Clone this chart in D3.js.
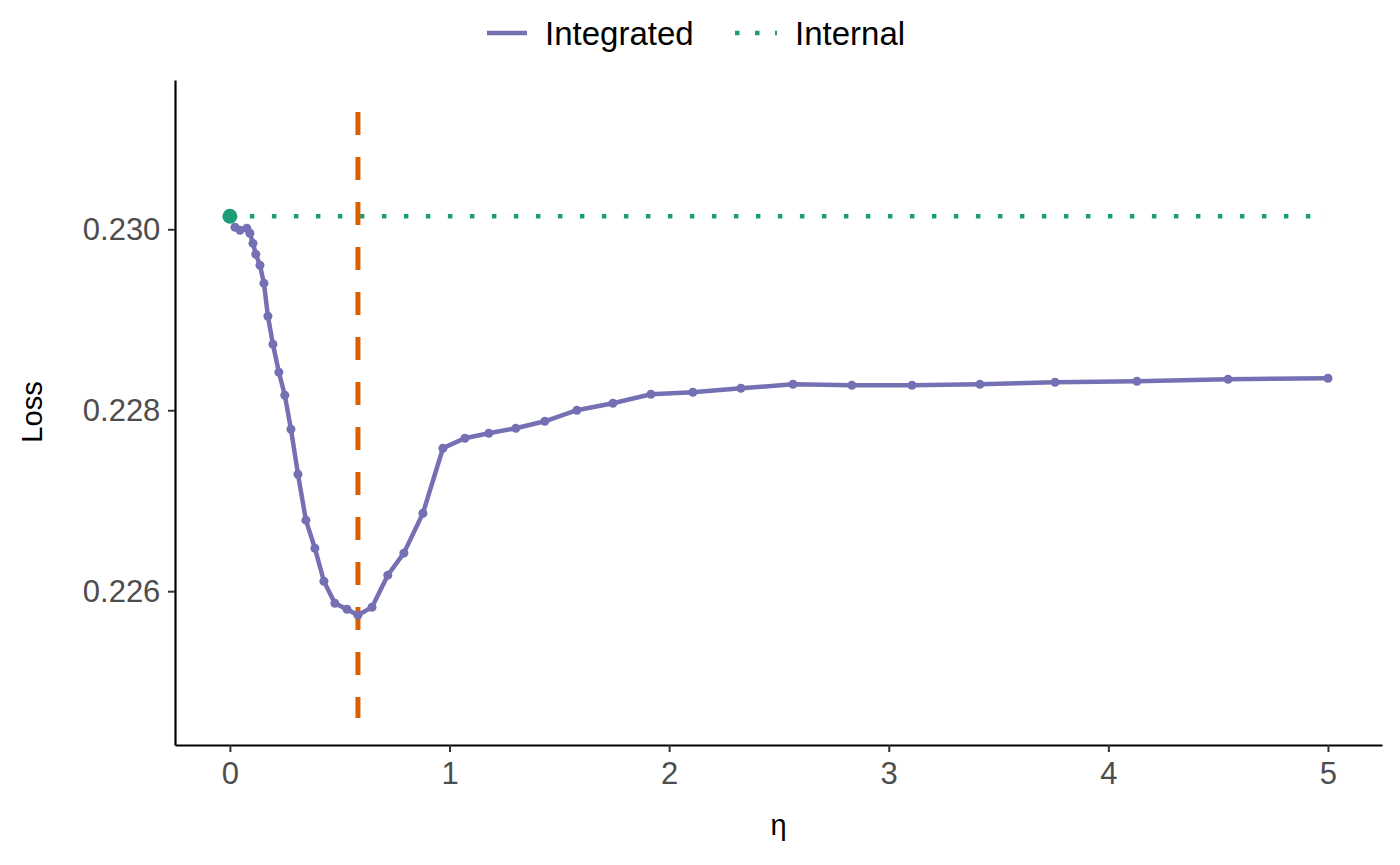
<!DOCTYPE html><html><head><meta charset="utf-8"><script src="https://cdn.jsdelivr.net/npm/d3@7"></script>
<style>body{margin:0;background:#fff}svg{font-family:"Liberation Sans",Arial,sans-serif}</style></head><body><svg id="c" width="1400" height="865"></svg>
<script>
const eta=[0.023,0.046,0.077,0.091,0.105,0.118,0.137,0.155,0.173,0.196,0.223,0.250,0.278,0.310,0.346,0.387,0.428,0.478,0.533,0.583,0.647,0.719,0.792,0.879,0.970,1.070,1.179,1.302,1.434,1.580,1.744,1.917,2.108,2.327,2.564,2.832,3.106,3.415,3.757,4.130,4.545,5.000];
const loss=[0.230022,0.229989,0.230011,0.229956,0.229845,0.229724,0.229602,0.229403,0.229039,0.228729,0.228420,0.228166,0.227790,0.227293,0.226785,0.226475,0.226110,0.225867,0.225801,0.225735,0.225823,0.226177,0.226420,0.226862,0.227580,0.227691,0.227746,0.227801,0.227878,0.228000,0.228077,0.228177,0.228199,0.228243,0.228287,0.228276,0.228276,0.228287,0.228309,0.228320,0.228343,0.228354];
const internalLoss=0.230144, bestEta=0.583;
const xTicks=[0,1,2,3,4,5], yTicks=[0.226,0.228,0.230];
const seriesNames=["Integrated","Internal"];
const L=175,R=1382,T=80,B=745;
const x=d3.scaleLinear().domain([-0.25,5.246]).range([L,R]);
const y=d3.scaleLinear().domain([0.22430,0.23165]).range([B,T]);
const svg=d3.select("#c");
const purple="#7570b3",green="#1b9e77",orange="#d95f02";
svg.append("line").attr("x1",x(0)).attr("x2",x(5)).attr("y1",y(internalLoss)).attr("y2",y(internalLoss))
 .attr("stroke",green).attr("stroke-width",4.5).attr("stroke-dasharray","4.5,17.5").attr("stroke-dashoffset",-20);
svg.append("line").attr("x1",x(bestEta)).attr("x2",x(bestEta)).attr("y1",112).attr("y2",718)
 .attr("stroke",orange).attr("stroke-width",5).attr("stroke-dasharray","23,22");
const pts=eta.map((e,i)=>[e,loss[i]]);
svg.append("path").attr("d",d3.line().x(d=>x(d[0])).y(d=>y(d[1]))(pts)).attr("fill","none").attr("stroke",purple).attr("stroke-width",4.5);
svg.selectAll(".p").data(pts).join("circle").attr("cx",d=>x(d[0])).attr("cy",d=>y(d[1])).attr("r",4.5).attr("fill",purple);
svg.append("circle").attr("cx",x(0)).attr("cy",y(internalLoss)).attr("r",7.5).attr("fill",green);
const xa=svg.append("g").attr("transform",`translate(0,${B})`).call(d3.axisBottom(x).tickValues(xTicks).tickFormat(d3.format("d")).tickSize(7).tickSizeOuter(0));
const ya=svg.append("g").attr("transform",`translate(${L},0)`).call(d3.axisLeft(y).tickValues(yTicks).tickFormat(d3.format(".3f")).tickSize(7).tickSizeOuter(0));
[xa,ya].forEach(a=>{a.attr("font-size",31).attr("font-family","Liberation Sans, Arial, sans-serif");a.select(".domain").attr("stroke","#000").attr("stroke-width",2.2);a.selectAll(".tick line").attr("stroke","#333").attr("stroke-width",2);a.selectAll("text").attr("fill","#4d4d4d");});
xa.selectAll("text").attr("dy","0.95em");
ya.selectAll("text").attr("dx","-0.15em");
svg.append("text").attr("x",(L+R)/2).attr("y",835).attr("text-anchor","middle").attr("font-size",29).text("η");
svg.append("text").attr("transform","translate(42,412) rotate(-90)").attr("text-anchor","middle").attr("font-size",29).text("Loss");
svg.append("line").attr("x1",487).attr("x2",527).attr("y1",33).attr("y2",33).attr("stroke",purple).attr("stroke-width",4.5);
svg.append("text").attr("x",545).attr("y",45).attr("font-size",33).text(seriesNames[0]);
svg.append("line").attr("x1",735).attr("x2",777).attr("y1",33).attr("y2",33).attr("stroke",green).attr("stroke-width",4.5).attr("stroke-dasharray","4.5,15.5");
svg.append("text").attr("x",795).attr("y",45).attr("font-size",33).text(seriesNames[1]);
</script></body></html>
